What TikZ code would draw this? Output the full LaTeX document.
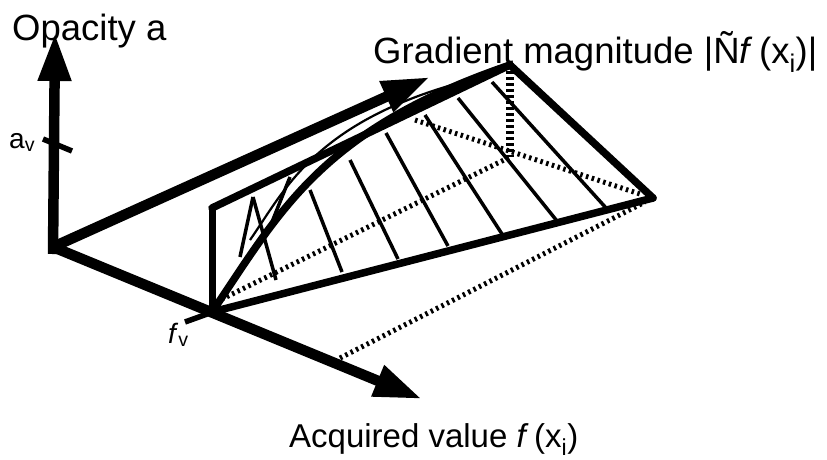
\documentclass[tikz,border=0pt]{standalone}
\usepackage{fontspec}
\setmainfont{Liberation Sans}
\usetikzlibrary{arrows.meta}
\begin{document}
\begin{tikzpicture}[x=1pt,y=-1pt,
  axisline/.style={line width=10.5pt, -{Triangle[length=48pt,width=31pt]}},
  edgeline/.style={line width=7.5pt, line cap=round, line join=round},
  ruling/.style={line width=3.5pt},
  thinline/.style={line width=2.2pt},
  dotline/.style={line width=5pt, dash pattern=on 2.5pt off 3.5pt},
  lbl/.style={inner sep=0pt, anchor=base west}]
\useasboundingbox (0,0) rectangle (827,459);
% key points
\coordinate (O) at (53,247);
\coordinate (Atip) at (55,33);
\coordinate (Gtip) at (430,77);
\coordinate (Ftip) at (422,399);
\coordinate (fv) at (212,312);
\coordinate (tv) at (212,208);
\coordinate (corner) at (510,65);
\coordinate (far) at (653,198);
\coordinate (back) at (510,157);
\coordinate (d3a) at (415,120);
\coordinate (d3b) at (640,194);
\coordinate (d4a) at (340,358);
\coordinate (d4b) at (645,202);
% axes
\draw[axisline] (53,254) -- (Atip);
\draw[axisline] (O) -- (Gtip);
\draw[axisline] (O) -- (Ftip);
% ticks
\draw[line width=5.5pt] (43,139) -- (72,151);
\draw[line width=5.5pt] (210,313) -- (185,322);
% dotted lines
\draw[dotline] (216,302) -- (back);
\draw[line width=7.5pt, dash pattern=on 3pt off 3pt] (corner) -- (back);
\draw[dotline] (d3a) -- (d3b);
\draw[dotline] (d4a) -- (d4b);
% ruling lines
\draw[ruling] (253,197) -- (240,257);
\draw[ruling] (253,197) -- (276,280);
\draw[ruling] (290,177) -- (272,222);
\draw[ruling] (310,190) -- (342,272);
\draw[ruling] (350,160) -- (398,259);
\draw[ruling] (386,133) -- (448,246);
\draw[ruling] (425,115) -- (502,234);
\draw[ruling] (458,98) -- (557,221);
\draw[ruling] (492,82) -- (607,209);
% thin companion of the curve
\draw[thinline] (250,240) .. controls (285,190) and (315,120) .. (470,80);
% edges
\draw[line width=7pt] (fv) -- (tv);
\draw[edgeline] (tv) -- (corner);
\draw[edgeline] (corner) -- (far);
\draw[edgeline] (fv) -- (far);
\draw[edgeline] (fv) .. controls (280,212) and (320,130) .. (corner);
% labels
\node[lbl, font=\fontsize{36.5}{40}\selectfont] (tOp) at (12,40) {Opacity a};
\node[lbl, font=\fontsize{28}{30}\selectfont] (tav) at (9,148) {a\textsubscript{v}};
\node[lbl, font=\fontsize{28}{30}\selectfont] (tfv) at (168,343) {\textit{f}\textsubscript{v}};
\node[lbl, font=\fontsize{36.5}{40}\selectfont] (tGr) at (373,63) {Gradient magnitude |Ñ\textit{f}\,(x\textsubscript{i})|};
\node[lbl, font=\fontsize{33}{36}\selectfont] (tAc) at (289,447) {Acquired value \textit{f}\,(x\textsubscript{i})};
\end{tikzpicture}
\end{document}
